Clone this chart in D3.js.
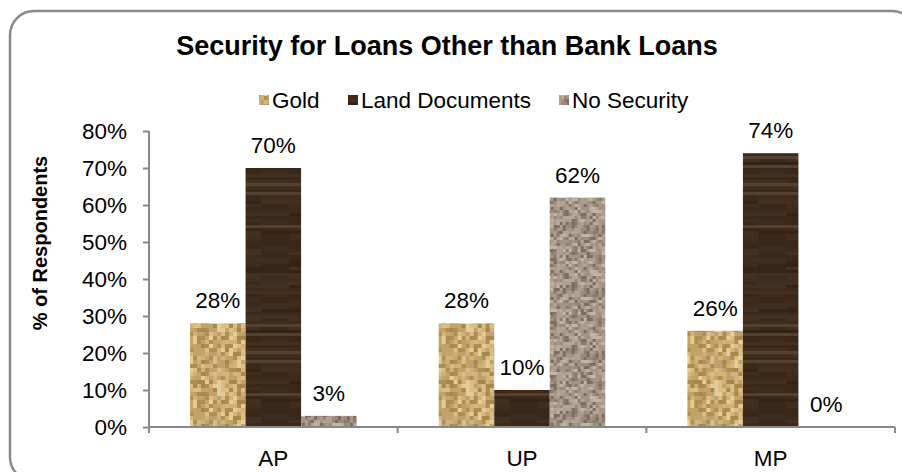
<!DOCTYPE html>
<html lang="en">
<head>
<meta charset="UTF-8">
<title>Security for Loans Other than Bank Loans</title>
<script src="https://cdn.jsdelivr.net/npm/d3@7"></script>
<style>
  body { margin: 0; background: #fff; }
  text { font-family: "Liberation Sans", Arial, sans-serif; fill: #000; }
</style>
</head>
<body>
<div id="chart"></div>
<script>
    // data
    var states = ["AP", "UP", "MP"];
    var seriesNames = ["Gold", "Land Documents", "No Security"];
    var gold = [28, 28, 26];
    var landDocs = [70, 10, 74];
    var noSecurity = [3, 62, 0];
    var yTicks = [0, 10, 20, 30, 40, 50, 60, 70, 80];

    var W = 902, H = 472;
    var plot = {left: 149, right: 895, top: 131, bottom: 427};
    var fontSize = "22.5px";

    var svg = d3.select("#chart").append("svg")
        .attr("width", W)
        .attr("height", H);

    // textures for the bars
    var defs = svg.append("defs");
    function noise(i, j, s) {
        var v = Math.sin(i * 127.1 + j * 311.7 + s * 74.7) * 43758.5453;
        return v - Math.floor(v);
    }
    function pixelPattern(id, cell, tile, colors, seed) {
        var p = defs.append("pattern")
            .attr("id", id)
            .attr("patternUnits", "userSpaceOnUse")
            .attr("width", tile).attr("height", tile);
        var n = tile / cell;
        for (var i = 0; i < n; i++) {
            for (var j = 0; j < n; j++) {
                p.append("rect")
                    .attr("x", i * cell).attr("y", j * cell)
                    .attr("width", cell).attr("height", cell)
                    .attr("fill", colors[Math.floor(noise(i, j, seed) * colors.length)]);
            }
        }
    }
    pixelPattern("pat-gold", 4, 64, ["#d9bf87", "#c4a466", "#b08e50", "#e3cc96", "#a88848", "#cdb07a", "#bfa070", "#d2b47c"], 1);
    pixelPattern("pat-none", 3, 63, ["#a89888", "#9a8a7b", "#b5a697", "#8c7c6e", "#c2b5a8", "#a39384", "#7d6d60", "#ae9f90"], 2);

    // wood-like horizontal streaks for land documents
    (function () {
        var tile = 168, rowH = 3, segW = 28;
        var cols = ["#3b2718", "#3f2b1c", "#352316", "#43301f", "#3a2a1d", "#402d1e"];
        var p = defs.append("pattern")
            .attr("id", "pat-land")
            .attr("patternUnits", "userSpaceOnUse")
            .attr("width", tile).attr("height", tile);
        for (var r = 0; r < tile / rowH; r++) {
            var base = Math.floor(noise(r, 0, 3) * cols.length);
            var streak = noise(r, 1, 7) > 0.9;
            for (var s = 0; s < tile / segW; s++) {
                var c = cols[(base + (noise(r, s, 5) > 0.75 ? 1 : 0)) % cols.length];
                if (streak) c = "#56412f";
                p.append("rect")
                    .attr("x", s * segW).attr("y", r * rowH)
                    .attr("width", segW).attr("height", rowH)
                    .attr("fill", c);
            }
        }
    })();

    var fills = ["url(#pat-gold)", "url(#pat-land)", "url(#pat-none)"];

    var rows = states.map(function (s, i) {
        return {state: s, values: [gold[i], landDocs[i], noSecurity[i]]};
    });

    // scales
    var x0 = d3.scaleBand()
        .domain(states)
        .range([plot.left, plot.right])
        .paddingInner(0)
        .paddingOuter(0);

    var x1 = d3.scaleBand()
        .domain(d3.range(seriesNames.length))
        .range([0, x0.bandwidth()])
        .paddingInner(0)
        .paddingOuter(0.74);

    var y = d3.scaleLinear()
        .domain([0, 80])
        .range([plot.bottom, plot.top]);

    // frame
    svg.append("rect")
        .attr("x", 10).attr("y", 11)
        .attr("width", 906).attr("height", 470)
        .attr("rx", 24)
        .attr("fill", "none")
        .attr("stroke", "#8a8a8a")
        .attr("stroke-width", 2.5);

    // title
    svg.append("text")
        .attr("x", 447).attr("y", 55)
        .attr("text-anchor", "middle")
        .attr("font-size", "27px")
        .attr("font-weight", "bold")
        .text("Security for Loans Other than Bank Loans");

    // legend
    var legendX = [259, 348, 559];
    var legend = svg.append("g").attr("class", "legend");
    seriesNames.forEach(function (name, i) {
        legend.append("rect")
            .attr("x", legendX[i]).attr("y", 95)
            .attr("width", 10).attr("height", 10)
            .attr("fill", fills[i]);
        legend.append("text")
            .attr("x", legendX[i] + 13).attr("y", 108)
            .attr("font-size", fontSize)
            .text(name);
    });

    // bars
    var groups = svg.selectAll(".state")
        .data(rows)
        .enter().append("g")
        .attr("class", "state")
        .attr("transform", function (d) { return "translate(" + x0(d.state) + ",0)"; });

    groups.selectAll("rect")
        .data(function (d) { return d.values; })
        .enter().append("rect")
        .attr("x", function (d, i) { return x1(i); })
        .attr("y", function (d) { return y(d); })
        .attr("width", x1.bandwidth())
        .attr("height", function (d) { return y(0) - y(d); })
        .attr("fill", function (d, i) { return fills[i]; });

    groups.selectAll(".label")
        .data(function (d) { return d.values; })
        .enter().append("text")
        .attr("class", "label")
        .attr("x", function (d, i) { return x1(i) + x1.bandwidth() / 2; })
        .attr("y", function (d) { return y(d) - 15; })
        .attr("text-anchor", "middle")
        .attr("font-size", fontSize)
        .text(function (d) { return d + "%"; });

    // axes
    var yAxis = d3.axisLeft(y)
        .tickValues(yTicks)
        .tickSize(6)
        .tickPadding(16)
        .tickFormat(function (d) { return d + "%"; });
    var gy = svg.append("g")
        .attr("transform", "translate(" + plot.left + ",0)")
        .call(yAxis);
    gy.select(".domain").remove();
    gy.append("line")
        .attr("x1", 0).attr("x2", 0)
        .attr("y1", plot.top).attr("y2", plot.bottom)
        .attr("stroke", "#888").attr("stroke-width", 2);
    gy.selectAll(".tick line").attr("stroke", "#888").attr("stroke-width", 2);
    gy.selectAll(".tick text")
        .attr("font-size", fontSize)
        .attr("font-family", "Liberation Sans, Arial, sans-serif")
        .attr("fill", "#000");

    var xAxis = d3.axisBottom(x0).tickSize(0).tickPadding(23);
    var gx = svg.append("g")
        .attr("transform", "translate(0," + plot.bottom + ")")
        .call(xAxis);
    gx.select(".domain").remove();
    gx.append("line")
        .attr("x1", plot.left).attr("x2", plot.right)
        .attr("y1", 0).attr("y2", 0)
        .attr("stroke", "#888").attr("stroke-width", 2);
    gx.selectAll(".sep")
        .data(states.map(function (s) { return x0(s); }).concat([plot.right]))
        .enter().append("line")
        .attr("class", "sep")
        .attr("x1", function (d) { return d; }).attr("x2", function (d) { return d; })
        .attr("y1", 0).attr("y2", 6)
        .attr("stroke", "#888").attr("stroke-width", 2);
    gx.selectAll(".tick text")
        .attr("font-size", fontSize)
        .attr("font-family", "Liberation Sans, Arial, sans-serif")
        .attr("fill", "#000");

    // y axis title
    svg.append("text")
        .attr("transform", "translate(47,243) rotate(-90)")
        .attr("text-anchor", "middle")
        .attr("font-size", "20px")
        .attr("font-weight", "bold")
        .text("% of Respondents");
</script>
</body>
</html>
